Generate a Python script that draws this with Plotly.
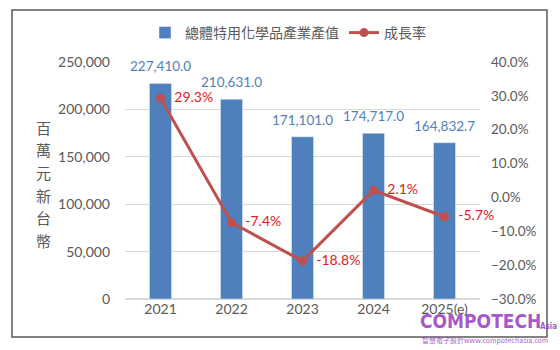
import plotly.graph_objects as go

years = ["2021", "2022", "2023", "2024", "2025(e)"]
output_value = [227410.0, 210631.0, 171101.0, 174717.0, 164832.7]
growth = [0.293, -0.074, -0.188, 0.021, -0.057]

bar_name = "總體特用化學品產業產值"
line_name = "成長率"
y_title = "百萬元新台幣"

BLUE = "#4F7FBC"
RED = "#C0504D"
LBL_RED = "#E02020"
GRAY = "#595959"
FONT = "Lato, Noto Sans CJK TC, sans-serif"

xpos = list(range(len(years)))

fig = go.Figure()
fig.add_trace(go.Bar(
    x=xpos, y=output_value, name=bar_name, marker_color=BLUE, width=0.31,
))
fig.add_trace(go.Scatter(
    x=xpos, y=growth, name=line_name, yaxis="y2", mode="lines+markers+text",
    line=dict(color=RED, width=3), marker=dict(color=RED, size=9),
    text=["  " + f"{g*100:.1f}%" for g in growth], textposition="middle right",
    textfont=dict(color=LBL_RED, size=14, family=FONT), cliponaxis=False,
))

# bar value labels, placed on the data scale
for i, val in zip(xpos, output_value):
    fig.add_annotation(x=i, y=val, xref="x", yref="y", text=f"{val:,.1f}",
                       showarrow=False, yanchor="bottom", yshift=7,
                       font=dict(color=BLUE, size=13.5, family=FONT))

L, R, T, B = 125, 80, 62, 51
W, H = 560, 350
pw, ph = W - L - R, H - T - B

def px(x):
    return (x - L) / pw

def py(y):
    return (H - B - y) / ph

fig.update_layout(
    width=W, height=H, margin=dict(l=L, r=R, t=T, b=B),
    paper_bgcolor="white", plot_bgcolor="white",
    font=dict(family=FONT, color=GRAY, size=13),
    xaxis=dict(range=[-0.5, len(years) - 0.5], tickmode="array", tickvals=xpos,
               ticktext=years, showline=False, ticks="", showgrid=False, zeroline=False,
               tickfont=dict(size=14, color=GRAY)),
    yaxis=dict(range=[0, 250000], dtick=50000, tickformat=",", showgrid=True,
               gridcolor="#D9D9D9", gridwidth=1, zeroline=True, zerolinecolor="#D9D9D9",
               tickfont=dict(size=14, color=GRAY), ticklabelstandoff=14),
    yaxis2=dict(range=[-0.3, 0.4], dtick=0.1, tickformat=".1%", overlaying="y",
                side="right", showgrid=False, zeroline=False,
                tickfont=dict(size=13.5, color=GRAY), ticklabelstandoff=10),
    legend=dict(orientation="h", x=px(145), y=py(33), xanchor="left", yanchor="middle",
                font=dict(size=14, color=GRAY), itemwidth=30, tracegroupgap=0),
    showlegend=True,
)

fig.add_shape(type="rect", xref="paper", yref="paper",
              x0=px(12), x1=px(547), y0=py(337), y1=py(10),
              line=dict(color="#595959", width=1.5), layer="below")

for k, ch in enumerate(y_title):
    fig.add_annotation(text=ch, xref="paper", yref="paper",
                       x=px(43), y=py(127 + 22.7 * k), xanchor="center", yanchor="middle",
                       showarrow=False,
                       font=dict(size=15, color=GRAY, family="Noto Sans CJK TC"))

WM = "rgba(150,60,190,0.85)"
fig.add_annotation(text="<b>COMPOTECH</b>", xref="paper", yref="paper",
                   x=px(418), y=py(321), xanchor="left", yanchor="middle", showarrow=False,
                   font=dict(size=19, color=WM,
                             family="DejaVu Sans Condensed, Liberation Sans Narrow, Liberation Sans"))
fig.add_annotation(text="<b>Asia</b>", xref="paper", yref="paper",
                   x=px(538), y=py(326), xanchor="left", yanchor="middle", showarrow=False,
                   font=dict(size=8, color=WM,
                             family="DejaVu Sans Condensed, Liberation Sans"))
fig.add_annotation(text="智慧電子設計www.compotechasia.com", xref="paper", yref="paper",
                   x=px(420), y=py(340), xanchor="left", yanchor="middle", showarrow=False,
                   font=dict(size=7, color=WM, family="Noto Sans CJK TC"))

fig.write_html("out.html")
